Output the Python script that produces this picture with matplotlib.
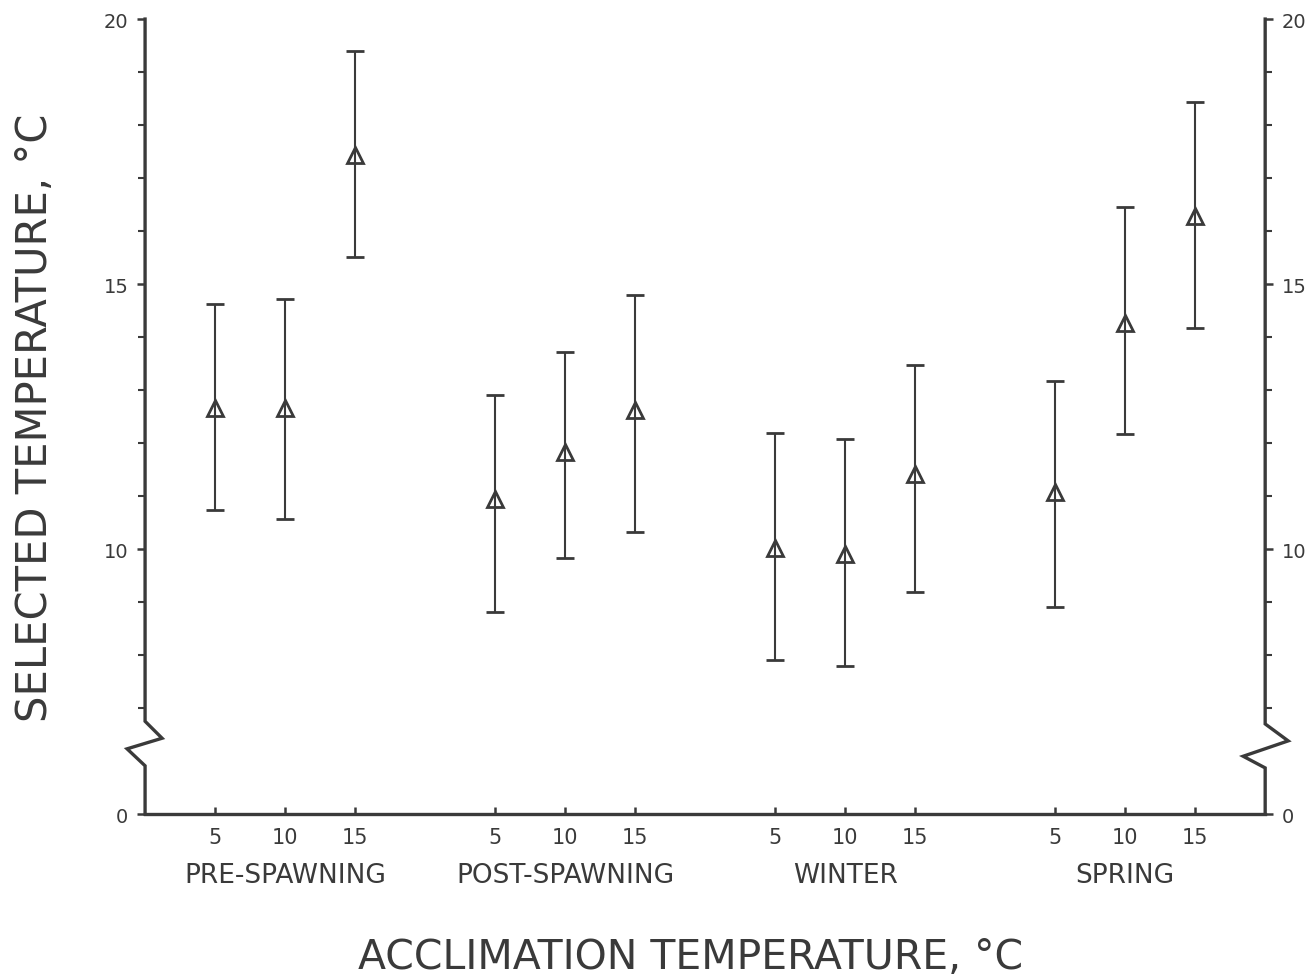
import matplotlib
matplotlib.use("Agg")
from matplotlib import pyplot as plt
from matplotlib import transforms

# seasons and acclimation temperatures
seasons = ["PRE-SPAWNING", "POST-SPAWNING", "WINTER", "SPRING"]
acclim = [5, 10, 15]

# selected temperature (mean) and the ends of the bars, per season
mean_pre = [12.66, 12.66, 17.43]
mean_post = [10.94, 11.83, 12.62]
mean_winter = [10.02, 9.91, 11.42]
mean_spring = [11.08, 14.26, 16.28]

upper_pre = [14.62, 14.72, 19.40]
upper_post = [12.91, 13.72, 14.79]
upper_winter = [12.19, 12.08, 13.47]
upper_spring = [13.17, 16.45, 18.43]

lower_pre = [10.74, 10.57, 15.51]
lower_post = [8.81, 9.83, 10.32]
lower_winter = [7.91, 7.79, 9.19]
lower_spring = [8.91, 12.17, 14.17]

y_ticks = [5, 10, 15, 20]
y_tick_labels = ["0", "10", "15", "20"]
y_minor = [7, 8, 9, 11, 12, 13, 14, 16, 17, 18, 19]

means = [mean_pre, mean_post, mean_winter, mean_spring]
uppers = [upper_pre, upper_post, upper_winter, upper_spring]
lowers = [lower_pre, lower_post, lower_winter, lower_spring]

ink = "#3a3a3a"
plt.rcParams["font.family"] = "DejaVu Sans"

fig = plt.figure(figsize=(13.07, 9.79), dpi=100)
ax = fig.add_axes([0.111, 0.1675, 0.857, 0.812])

xpos_all = []
xlab_all = []
for g, season in enumerate(seasons):
    xs = [4 * g + 1 + i for i in range(len(acclim))]
    m = means[g]
    err_lo = [m[i] - lowers[g][i] for i in range(len(m))]
    err_hi = [uppers[g][i] - m[i] for i in range(len(m))]
    ax.errorbar(xs, m, yerr=[err_lo, err_hi], fmt="^", color=ink,
                mfc="none", mec=ink, mew=2.0, ms=12, elinewidth=1.5,
                capsize=6.5, capthick=1.8, zorder=3)
    xpos_all += xs
    xlab_all += [str(a) for a in acclim]
    ax.text(4 * g + 2, -0.077, season, transform=ax.get_xaxis_transform(),
            ha="center", va="center", fontsize=19, color=ink)

ax.set_xlim(0, 16)
ax.set_ylim(5, 20)
ax.set_xticks(xpos_all, xlab_all)
ax.set_yticks(y_ticks, y_tick_labels)
ax.set_yticks(y_minor, minor=True)

ax.tick_params(axis="x", direction="in", length=5, width=1.8, color=ink,
               labelsize=15, labelcolor=ink, pad=9)
ax.tick_params(axis="y", which="major", direction="out", length=6, width=1.8,
               color=ink, labelsize=14, labelcolor=ink, pad=6,
               right=True, labelright=True)
ax.tick_params(axis="y", which="minor", direction="out", length=5, width=1.5,
               color=ink, right=True)

for side in ["top", "left", "right"]:
    ax.spines[side].set_visible(False)
ax.spines["bottom"].set_linewidth(2.4)
ax.spines["bottom"].set_color(ink)

# y axes drawn by hand with the break zigzag
trans = transforms.blended_transform_factory(ax.transAxes, ax.transData)
dx = 1.0 / 1120
ax.plot([0, 0, 17 * dx, -18 * dx, 0, 0], [20, 6.75, 6.43, 6.23, 5.91, 5],
        transform=trans, color=ink, lw=2.4, clip_on=False,
        solid_joinstyle="miter")
ax.plot([1, 1, 1 + 23 * dx, 1 - 22 * dx, 1, 1], [20, 6.70, 6.38, 6.09, 5.87, 5],
        transform=trans, color=ink, lw=2.4, clip_on=False,
        solid_joinstyle="miter")

fig.text(35 / 1307, 1 - 418 / 979, "SELECTED TEMPERATURE, °C", rotation=90,
         ha="center", va="center", fontsize=30, color=ink)
fig.text(691 / 1307, 1 - 958 / 979, "ACCLIMATION TEMPERATURE, °C",
         ha="center", va="center", fontsize=29.5, color=ink)

fig.savefig("out.png", dpi=100, facecolor="white")
